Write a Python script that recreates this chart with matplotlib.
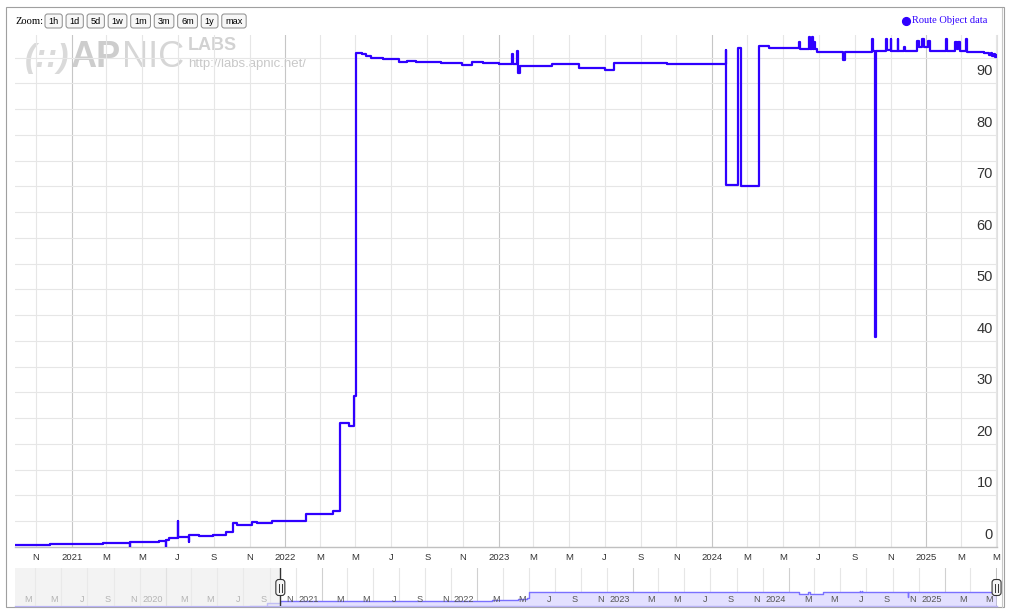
import datetime as dt
import numpy as np
import matplotlib
matplotlib.use("Agg")
import matplotlib.pyplot as plt
import matplotlib.dates as mdates
from matplotlib.patches import Rectangle, FancyBboxPatch
from matplotlib.lines import Line2D
from matplotlib.transforms import IdentityTransform

# ---------------- data ----------------
series_name = "Route Object data"
dates = [
    "2020-09-26", "2020-11-24", "2020-12-23", "2021-02-23", "2021-04-10", "2021-04-11",
    "2021-05-17", "2021-05-31", "2021-06-11", "2021-06-12", "2021-06-17", "2021-07-01",
    "2021-07-02", "2021-07-20", "2021-07-21", "2021-08-07", "2021-08-30", "2021-09-22",
    "2021-10-03", "2021-10-10", "2021-11-06", "2021-11-13", "2021-12-10", "2022-02-05",
    "2022-03-01", "2022-03-23", "2022-04-05", "2022-04-20", "2022-04-28", "2022-05-02",
    "2022-05-12", "2022-05-19", "2022-05-28", "2022-06-05", "2022-06-18", "2022-06-28",
    "2022-07-15", "2022-07-28", "2022-08-13", "2022-09-10", "2022-09-25", "2022-10-09",
    "2022-10-31", "2022-11-17", "2022-12-05", "2023-01-02", "2023-01-24", "2023-01-26",
    "2023-02-01", "2023-02-03", "2023-02-06", "2023-04-02", "2023-05-19", "2023-07-01",
    "2023-07-18", "2023-10-15", "2024-01-24", "2024-01-25", "2024-02-14", "2024-02-20",
    "2024-03-21", "2024-04-08", "2024-05-13", "2024-05-29", "2024-05-31", "2024-06-15",
    "2024-06-16", "2024-06-20", "2024-06-21", "2024-06-23", "2024-06-24", "2024-06-29",
    "2024-08-12", "2024-08-15", "2024-10-01", "2024-10-02", "2024-10-06", "2024-10-07",
    "2024-10-24", "2024-10-26", "2024-11-01", "2024-11-02", "2024-11-13", "2024-11-14",
    "2024-11-24", "2024-11-25", "2024-12-16", "2024-12-19", "2024-12-24", "2024-12-29",
    "2025-01-04", "2025-01-08", "2025-02-03", "2025-02-05", "2025-02-20", "2025-02-22",
    "2025-02-25", "2025-02-27", "2025-03-10", "2025-03-12", "2025-04-10", "2025-04-19",
    "2025-04-21", "2025-04-24", "2025-04-27", "2025-04-29", "2025-05-02",
]
values = [
    0.33, 0.50, 0.66, 0.85, 0.0, 0.97,
    1.05, 1.17, 0.0, 1.30, 1.80, 5.00,
    1.95, 0.90, 2.40, 2.10, 2.27, 2.90,
    4.66, 4.20, 4.86, 4.60, 5.05, 6.35,
    6.50, 7.00, 24.1, 23.5, 29.3, 95.9,
    95.7, 95.4, 95.0, 94.85, 94.7, 94.65,
    94.2, 94.4, 94.07, 94.2, 94.0, 93.9,
    93.55, 94.07, 93.9, 93.7, 95.7, 93.7,
    96.3, 92.1, 93.3, 93.7, 92.9, 92.6,
    93.9, 93.7, 96.5, 70.25, 96.8, 70.1,
    97.2, 96.9, 96.8, 98.1, 96.6, 99.0,
    96.7, 99.0, 96.6, 98.1, 96.6, 96.1,
    94.5, 96.1, 98.7, 96.3, 40.8, 96.3,
    98.7, 96.5, 98.7, 96.3, 98.7, 96.3,
    97.0, 96.3, 98.3, 97.0, 98.6, 97.0,
    98.3, 96.2, 98.7, 96.2, 98.1, 96.6,
    98.1, 96.2, 98.7, 96.1, 95.9, 95.5,
    96.0, 95.3, 95.8, 95.2, 95.6,
]
# navigator-only history before the selected range (in navigator units)
nav_pre_dates = ["2020-07-16", "2020-08-25"]
nav_pre_values = [-52, -24]

y_label_values = [0, 10, 20, 30, 40, 50, 60, 70, 80, 90]
month_letters = ["J", "F", "M", "A", "M", "J", "J", "A", "S", "O", "N", "D"]
zoom_buttons = ["1h", "1d", "5d", "1w", "1m", "3m", "6m", "1y", "max"]

main_range = ("2020-09-26", "2025-05-02")
nav_range = ("2019-01-13", "2025-05-03")

# ---------------- setup ----------------
W, H, DPI = 1011, 615, 100
SANS = "Liberation Sans"
SERIF = "Liberation Serif"
LINE = "#2f00ff"

plt.rcParams["font.family"] = [SANS, "DejaVu Sans"]

def d(s):
    return dt.datetime.strptime(s, "%Y-%m-%d")

def F(x, y):
    """pixel (from top-left) -> figure fraction"""
    return x / W, 1 - y / H

def fmt(x, pos=None):
    t = mdates.num2date(x)
    return str(t.year) if t.month == 1 else month_letters[t.month - 1]

xd = [d(s) for s in dates]

fig = plt.figure(figsize=(W / DPI, H / DPI), dpi=DPI)
fig.patch.set_facecolor("white")
renderer = fig.canvas.get_renderer()

# ---------------- main axes ----------------
ax = fig.add_axes([15 / W, 1 - 547 / H, 982 / W, 512 / H])
ax.set_facecolor("white")
ax.set_xlim(d(main_range[0]), d(main_range[1]))
ax.set_ylim(0, 99.4)
ax.set_axisbelow(True)

ax.xaxis.set_major_locator(mdates.YearLocator())
ax.xaxis.set_minor_locator(mdates.MonthLocator(bymonth=[3, 5, 7, 9, 11]))
ax.xaxis.set_major_formatter(plt.FuncFormatter(fmt))
ax.xaxis.set_minor_formatter(plt.FuncFormatter(fmt))
ax.tick_params(axis="x", which="both", length=0, labelsize=6.8, colors="#333333", pad=4.5)
ax.set_yticks(np.arange(0, 100, 5))
ax.tick_params(axis="y", length=0, labelleft=False, labelright=False)
ax.grid(which="major", axis="x", color="#c6c6c6", lw=0.8)
ax.grid(which="minor", axis="x", color="#e6e6e6", lw=0.8)
ax.grid(which="major", axis="y", color="#e6e6e6", lw=0.8)
for s in ["top", "left"]:
    ax.spines[s].set_visible(False)
ax.spines["bottom"].set_color("#c0c0c0")
ax.spines["bottom"].set_linewidth(1.0)
ax.spines["right"].set_color("#e0e0e0")
ax.spines["right"].set_linewidth(0.8)

for v in y_label_values:
    ax.annotate(str(v), xy=(1, v), xycoords=("axes fraction", "data"),
                xytext=(-4, 12), textcoords="offset pixels", ha="right", va="center",
                fontsize=10.5, color="#333333", family=SANS)

ax.plot(xd, values, drawstyle="steps-post", color=LINE, lw=1.6, zorder=3)

# watermark (behind grid), pieces laid out one after another
wm = dict(transform=IdentityTransform(), clip_on=False, zorder=0.1, va="baseline", ha="left")
wx = 25
for txt, kw in [("(::)", dict(fontsize=24, fontweight="bold", style="italic", color="#dadada")),
                ("AP", dict(fontsize=26, fontweight="bold", color="#cdcdcd")),
                ("NIC", dict(fontsize=26, color="#d6d6d6"))]:
    t = ax.text(wx, H - 67, txt, **kw, **wm)
    wx += t.get_window_extent(renderer).width + 1
ax.text(188, H - 50, "LABS", fontsize=13, fontweight="bold", color="#d2d2d2", **wm)
ax.text(188, H - 67, "http://labs.apnic.net/", fontsize=9.5, color="#c8c8c8", **wm)

# ---------------- navigator ----------------
nav = fig.add_axes([15 / W, 1 - 606 / H, 982 / W, 38 / H])
nav.set_facecolor("white")
nav.set_xlim(d(nav_range[0]), d(nav_range[1]))
nav.set_ylim(-52, 343)
nav.set_axisbelow(True)
nav_x = [d(s) for s in nav_pre_dates] + xd
nav_y = nav_pre_values + values
nav.fill_between(nav_x, nav_y, -52, step="post", color="#e3e0ff", lw=0, zorder=2)
nav.plot(nav_x, nav_y, drawstyle="steps-post", color="#7a70ff", lw=1.0, zorder=3)
nav.xaxis.set_major_locator(mdates.YearLocator())
nav.xaxis.set_minor_locator(mdates.MonthLocator(bymonth=[3, 5, 7, 9, 11]))
nav.tick_params(axis="both", which="both", length=0, labelbottom=False, labelleft=False)
nav.set_yticks([])
nav.grid(which="major", axis="x", color="#d0d0d0", lw=0.8)
nav.grid(which="minor", axis="x", color="#e6e6e6", lw=0.8)
for s in ["top", "left", "right"]:
    nav.spines[s].set_visible(False)
nav.spines["bottom"].set_color("#b9b3f5")
nav.spines["bottom"].set_linewidth(1.0)

nav_ticks = mdates.MonthLocator(bymonth=[1, 3, 5, 7, 9, 11]).tick_values(
    d(nav_range[0]), d(nav_range[1]))
for t in nav_ticks:
    if mdates.date2num(d(nav_range[0])) <= t <= mdates.date2num(d(nav_range[1])):
        nav.annotate(fmt(t), xy=(t, 0), xycoords=("data", "axes fraction"),
                     xytext=(-3, 6), textcoords="offset pixels", ha="right", va="center",
                     fontsize=6.6, color="#555555", zorder=4)

# mask for unselected range
x0n = mdates.date2num(d(nav_range[0]))
x1m = mdates.date2num(d(main_range[0]))
nav.add_patch(Rectangle((x0n, 0), x1m - x0n, 1, transform=nav.get_xaxis_transform(),
                        facecolor=(236 / 255, 236 / 255, 236 / 255, 0.63), lw=0, zorder=5))

fig.canvas.draw()

# handles
for hd in main_range:
    hx = nav.transData.transform((mdates.date2num(d(hd)), 0))[0]
    nav.axvline(mdates.date2num(d(hd)), color="#333333", lw=1.0, zorder=6)
    cy = H - 587.5
    fig.patches.append(FancyBboxPatch((hx - 4.5, cy - 8), 9, 16,
                                      boxstyle="round,pad=0,rounding_size=3",
                                      facecolor="#f4f4f4", edgecolor="#333333", lw=0.8,
                                      transform=IdentityTransform(), zorder=7))
    for dx in (-1.3, 1.3):
        fig.add_artist(Line2D([hx + dx, hx + dx], [cy - 4, cy + 4], color="#333333",
                              lw=0.7, transform=IdentityTransform(), zorder=8))

# ---------------- outer frame ----------------
fig.add_artist(Rectangle((5.5, H - 606.5), 998.5, 600, fill=False, edgecolor="#a0a0a0",
                         lw=0.8, transform=IdentityTransform(), zorder=0))
fig.add_artist(Line2D([1001.5, 1001.5], [H - 606.5, H - 8], color="#c8c8c8", lw=0.8,
                      transform=IdentityTransform()))

# ---------------- zoom buttons ----------------
fig.text(*F(15, 21), "Zoom:", family=SERIF, fontsize=7.6, va="center", ha="left",
         color="#000000")
bx = 45
for lab in zoom_buttons:
    t = fig.text(0, 0, lab, fontsize=6.6, family=SANS, color="#000000",
                 ha="center", va="center")
    tw = t.get_window_extent(renderer).width
    bw = tw + 7
    t.set_position(F(bx + bw / 2, 21.3))
    fig.patches.append(FancyBboxPatch((bx, H - 28), bw, 14,
                                      boxstyle="round,pad=0,rounding_size=2.5",
                                      facecolor="#f7f7f7", edgecolor="#8a8a8a", lw=0.7,
                                      transform=IdentityTransform()))
    bx += bw + 3.8

# ---------------- legend ----------------
fig.add_artist(Line2D([905.5 / W], [1 - 20.5 / H], marker="o", markersize=5.6, color=LINE,
                      lw=0, transform=fig.transFigure))
fig.text(*F(912.5, 20.5), series_name, family=SERIF, fontsize=7.5, color=LINE,
         va="center", ha="left")

fig.savefig("out.png", dpi=DPI, facecolor="white")
